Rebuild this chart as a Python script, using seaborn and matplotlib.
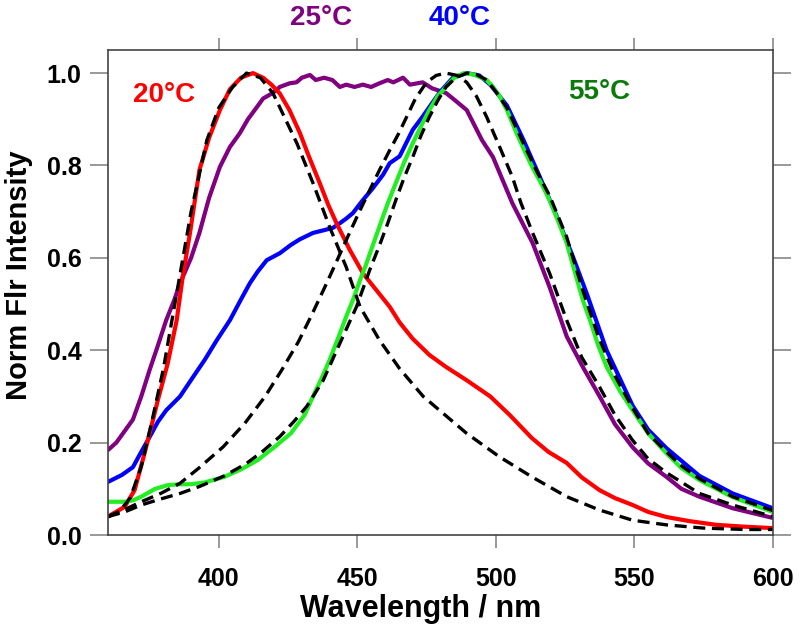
import matplotlib
matplotlib.use("Agg")
import matplotlib.pyplot as plt
import seaborn as sns

# 20 C spectrum (red)
wl_20 = [360, 366, 369.6, 373.2, 375.6, 378, 381.5, 384.8, 387, 389.6, 393, 396.5, 400.4, 404,
         408, 412.3, 416, 419, 422, 425.5, 429.3, 432.5, 436.5, 439.5, 442.5, 447.3, 452.1,
         456.9, 461.7, 465.3, 470, 476, 482, 489.5, 498, 505, 513, 519, 525.6, 531,
         537.5, 543, 549.4, 555, 561.6, 570, 579.7, 590, 600]
int_20 = [0.04, 0.061, 0.097, 0.177, 0.234, 0.292, 0.37, 0.465, 0.56, 0.654, 0.79, 0.86, 0.92, 0.965,
          0.99, 1.0, 0.99, 0.975, 0.956, 0.92, 0.87, 0.82, 0.761, 0.715, 0.675, 0.617, 0.566,
          0.53, 0.494, 0.46, 0.425, 0.39, 0.364, 0.335, 0.3, 0.26, 0.21, 0.18, 0.156, 0.125,
          0.097, 0.08, 0.065, 0.05, 0.039, 0.03, 0.022, 0.018, 0.015]

# 25 C spectrum (purple)
wl_25 = [360, 363, 366, 369, 372, 375, 378, 381, 384, 386, 390, 393, 396.5, 400.4, 404, 407.6,
         410.5, 413.7, 416, 419.5, 422, 425.6, 428, 430, 432.9, 435, 438, 441, 443.7, 446, 449,
         452, 455, 458, 461, 463, 466.5, 469, 473.6, 477, 482, 485.5, 489.5, 495, 499, 502, 506,
         513.3, 519.4, 525.6, 531.4, 537.5, 543, 549.4, 555, 561.6, 567, 573.5, 585.5, 600]
int_25 = [0.184, 0.2, 0.225, 0.25, 0.3, 0.357, 0.41, 0.465, 0.51, 0.545, 0.6, 0.654, 0.73, 0.797, 0.84, 0.87,
          0.9, 0.926, 0.945, 0.957, 0.97, 0.978, 0.98, 0.99, 0.996, 0.985, 0.99, 0.985, 0.97, 0.975, 0.97,
          0.975, 0.97, 0.978, 0.985, 0.98, 0.99, 0.975, 0.98, 0.967, 0.957, 0.94, 0.92, 0.855, 0.818, 0.775, 0.718,
          0.632, 0.537, 0.43, 0.364, 0.3, 0.24, 0.19, 0.155, 0.126, 0.1, 0.083, 0.058, 0.037]

# 40 C spectrum (blue)
wl_40 = [360, 365, 369, 372, 375, 378, 381, 386, 390.7, 395, 399.3, 404, 408, 411.2, 414, 417.3,
         422, 426, 429.2, 434, 438, 441.2, 443.7, 446, 448.4, 452, 455.5, 459.3, 461.7, 465.3,
         470, 473.5, 477, 480, 484.5, 489.5, 494, 498, 504, 510, 515.9, 522, 528, 533, 540,
         549.4, 555, 561.6, 573.5, 585.5, 600]
int_40 = [0.115, 0.13, 0.147, 0.18, 0.212, 0.245, 0.27, 0.3, 0.342, 0.38, 0.422, 0.465, 0.51, 0.545, 0.57, 0.595,
          0.61, 0.628, 0.64, 0.654, 0.66, 0.665, 0.675, 0.685, 0.697, 0.725, 0.75, 0.78, 0.805, 0.82,
          0.877, 0.905, 0.935, 0.96, 0.99, 1.0, 0.995, 0.975, 0.93, 0.855, 0.775, 0.69, 0.6, 0.52, 0.4,
          0.28, 0.228, 0.188, 0.128, 0.09, 0.058]

# 55 C spectrum (green)
wl_55 = [360, 366, 369, 372, 377, 381.6, 386, 390, 395, 402, 408, 414, 420, 426, 431, 434, 437, 440,
         443, 446, 448.5, 451, 453, 455, 458, 461, 464.1, 467, 470, 473, 476, 479, 482, 485, 488.5,
         492, 496.7, 499, 501.4, 504, 507.5, 510.5, 513.3, 516.5, 519.4, 522.5, 525.6, 528.5,
         531.4, 534, 537, 540, 545, 549.4, 555, 561.6, 567, 573.5, 585.5, 600]
int_55 = [0.072, 0.072, 0.075, 0.083, 0.1, 0.108, 0.11, 0.11, 0.114, 0.126, 0.142, 0.162, 0.19, 0.22, 0.26, 0.3, 0.338, 0.379,
          0.425, 0.473, 0.51, 0.552, 0.583, 0.617, 0.668, 0.718, 0.765, 0.808, 0.848, 0.885, 0.92, 0.95, 0.97, 0.99, 1.0,
          0.997, 0.985, 0.97, 0.95, 0.92, 0.87, 0.83, 0.795, 0.76, 0.725, 0.68, 0.632, 0.57,
          0.509, 0.465, 0.41, 0.364, 0.31, 0.27, 0.22, 0.177, 0.145, 0.119, 0.082, 0.05]

# fitted components (black dashed)
wl_fit_a = [360, 364, 368, 372, 376, 380, 385, 390, 395.7, 400, 405, 410, 415, 419.5, 422, 428.2, 434,
            440, 446, 451, 458, 465.3, 473.8, 489.5, 501.4, 513, 525.6, 537.5, 549.4, 561.6, 575, 590, 600]
int_fit_a = [0.04, 0.05, 0.08, 0.148, 0.25, 0.36, 0.53, 0.7, 0.855, 0.925, 0.97, 1.0, 0.99, 0.957, 0.926, 0.848, 0.762,
             0.667, 0.58, 0.494, 0.422, 0.36, 0.3, 0.22, 0.169, 0.126, 0.083, 0.054, 0.032, 0.022, 0.015, 0.012, 0.012]

wl_fit_b = [360, 366, 372, 379, 386, 392.6, 401.6, 409.4, 416.6, 422.7, 428.7, 433.5, 438.3, 442.5, 446.5,
            450.5, 454.5, 458, 461.7, 465, 467.8, 471, 475, 478.5, 482, 486, 489.5, 493, 496.7, 501.4,
            506, 509, 513.3, 519.4, 525.6, 531, 537.5, 543, 549.4, 555, 561.6, 573.5, 585.5, 600]
int_fit_b = [0.04, 0.055, 0.072, 0.09, 0.112, 0.144, 0.191, 0.242, 0.299, 0.357, 0.418, 0.476, 0.537, 0.592, 0.645,
             0.697, 0.747, 0.79, 0.833, 0.87, 0.905, 0.945, 0.98, 0.995, 1.0, 0.995, 0.98, 0.95, 0.905, 0.84,
             0.775, 0.72, 0.654, 0.567, 0.465, 0.385, 0.32, 0.26, 0.205, 0.165, 0.135, 0.09, 0.065, 0.04]

wl_fit_c = [360, 366, 372, 379, 386, 393, 402, 410, 416, 422, 427, 431.7, 437.7, 443.7, 449.7, 454.5,
            458, 461, 464.2, 467, 470, 473, 476, 479, 482, 485.5, 489.5, 493, 496.7, 500, 504, 507.5,
            511, 515, 519.4, 525.6, 531.4, 537, 543, 549.4, 555, 561.6, 567, 573.5, 585.5, 600]
int_fit_c = [0.04, 0.05, 0.065, 0.078, 0.09, 0.105, 0.128, 0.155, 0.182, 0.213, 0.245, 0.278, 0.335, 0.415, 0.494, 0.574,
             0.627, 0.675, 0.73, 0.775, 0.818, 0.865, 0.905, 0.94, 0.97, 0.99, 1.0, 0.997, 0.985, 0.96, 0.925, 0.88,
             0.835, 0.785, 0.735, 0.645, 0.53, 0.43, 0.345, 0.275, 0.22, 0.18, 0.15, 0.122, 0.083, 0.053]

labels = ["20\u00b0C", "25\u00b0C", "40\u00b0C", "55\u00b0C"]
label_colors = ["#ff0000", "#800080", "#0000ff", "#0a7a0a"]

sns.set_theme(style="ticks")
plt.rcParams["font.family"] = ["Liberation Sans", "DejaVu Sans"]
plt.rcParams["font.weight"] = "bold"
plt.rcParams["text.color"] = "black"
plt.rcParams["axes.labelcolor"] = "black"

fig = plt.figure(figsize=(8, 6.29), dpi=100)
ax = fig.add_axes([0.135, 0.1494, 0.831, 0.7711])

lw = 3.0
sns.lineplot(x=wl_25, y=int_25, ax=ax, color="#800080", lw=lw)
sns.lineplot(x=wl_40, y=int_40, ax=ax, color="#0000ff", lw=lw)
sns.lineplot(x=wl_20, y=int_20, ax=ax, color="#ff0000", lw=lw)
sns.lineplot(x=wl_55, y=int_55, ax=ax, color="#22ee22", lw=lw)
for wx, wy in [(wl_fit_a, int_fit_a), (wl_fit_b, int_fit_b), (wl_fit_c, int_fit_c)]:
    sns.lineplot(x=wx, y=wy, ax=ax, color="black", lw=2.4, linestyle=(0, (3.6, 2.0)))

ax.set_xlim(360, 600)
ax.set_ylim(0, 1.05)
ax.set_xticks([400, 450, 500, 550, 600])
ax.set_yticks([0.0, 0.2, 0.4, 0.6, 0.8, 1.0])
ax.set_yticklabels(["0.0", "0.2", "0.4", "0.6", "0.8", "1.0"])

ax.set_xlabel("Wavelength / nm", fontsize=22, fontweight="bold")
ax.set_ylabel("Norm Flr Intensity", fontsize=21, fontweight="bold")
ax.xaxis.set_label_coords(0.471, -0.122)
ax.yaxis.set_label_coords(-0.113, 0.536)

for s in ax.spines.values():
    s.set_visible(True)
    s.set_color("#444444")
    s.set_linewidth(1.2)

ax.tick_params(axis="y", direction="out", length=13, width=1.2, color="#888888",
               left=True, right=True, labelsize=18, pad=6, labelcolor="black")
ax.tick_params(axis="x", direction="out", length=9, width=1.2, color="#888888",
               bottom=True, top=True, labelsize=18, pad=14, labelcolor="black")
for t in ax.get_xticklabels() + ax.get_yticklabels():
    t.set_fontweight("bold")

# temperature labels
ax.text(380.2, 0.952, labels[0], color=label_colors[0], fontsize=20, fontweight="bold",
        ha="center", va="center")
ax.text(436.8, 1.12, labels[1], color=label_colors[1], fontsize=20, fontweight="bold",
        ha="center", va="center", clip_on=False)
ax.text(487.0, 1.12, labels[2], color=label_colors[2], fontsize=20, fontweight="bold",
        ha="center", va="center", clip_on=False)
ax.text(537.5, 0.959, labels[3], color=label_colors[3], fontsize=20, fontweight="bold",
        ha="center", va="center")

fig.savefig("out.png", dpi=100)
